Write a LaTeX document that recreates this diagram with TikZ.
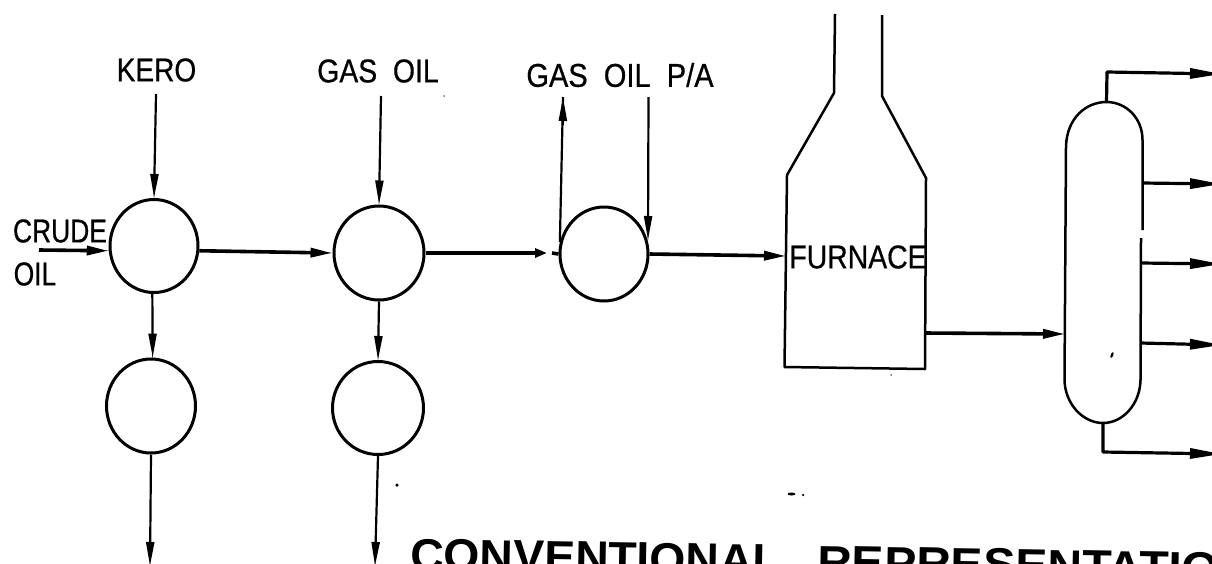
\documentclass[tikz,border=0pt]{standalone}
\usepackage{fontspec}
\setmainfont{Liberation Sans}
\newfontfamily\heavy[FakeBold=0.6]{Liberation Sans}
\usetikzlibrary{arrows.meta,shapes.geometric}
\newcommand{\nx}[2]{\scalebox{#1}[1]{#2}}
\tikzset{
  vessel/.style={ellipse,draw,line width=3pt,inner sep=0pt},
  feed/.style={line width=2.2pt,preaction={draw,arrows=-},-{Triangle[length=24pt,width=8pt]}},
  flow/.style={line width=3.6pt,preaction={draw,arrows=-},-{Triangle[length=22pt,width=9pt]}},
  offtake/.style={line width=3.2pt,line join=round,preaction={draw,arrows=-},-{Triangle[length=32pt,width=10pt]}},
  wall/.style={line width=2.5pt,line join=round},
  lab/.style={inner sep=0pt,font=\fontsize{33}{33}\heavy},
  title/.style={inner sep=0pt,anchor=base west,rotate=-1,font=\fontsize{45}{45}\selectfont\bfseries},
  speck/.style={fill=black,inner sep=0pt,draw=none}
}
\begin{document}
\begin{tikzpicture}[x=1pt,y=-1pt]
\useasboundingbox (0,0) rectangle (1212,563);
\clip (0,0) rectangle (1212,563);
% vessels
\node[vessel,minimum width=88pt,minimum height=93pt] (c1) at (154,246) {};
\node[vessel,minimum width=90pt,minimum height=94pt] (c2) at (379,253) {};
\node[vessel,minimum width=88pt,minimum height=94pt] (c3) at (604,254) {};
\node[vessel,minimum width=89pt,minimum height=94pt] (c4) at (151,406) {};
\node[vessel,minimum width=91pt,minimum height=93pt] (c5) at (378,408) {};
% labels
\node[lab] (kero) at (156.5,70) {\nx{.85}{KERO}};
\node[lab] (gasoil) at (378,71) {\nx{.86}{GAS\ \ OIL}};
\node[lab] (gaspa) at (620,75) {\nx{.88}{GAS\ \ OIL\ \ P/A}};
\node[lab] (crude) at (60,231) {\nx{.8}{CRUDE}};
\node[lab] (oil) at (35,274) {\nx{.8}{OIL}};
\node[lab] (furn) at (858,257) {\nx{.86}{FURNACE}};
% free ends
\coordinate (keroin) at (156,94);
\coordinate (gasin) at (381,96);
\coordinate (paout) at (563,97);
\coordinate (pain) at (648.5,97);
\coordinate (pahit) at (648,240);
\coordinate (crudein) at (39,250);
\coordinate (brk) at (547,253);
\coordinate (brk2) at (552,253);
\coordinate (fin) at (786,256);
\coordinate (c4out) at (150,566);
\coordinate (c5out) at (375,566);
% furnace
\coordinate (f1) at (835,14);
\coordinate (f2) at (834,93);
\coordinate (f3) at (787,175);
\coordinate (f4) at (784.5,367);
\coordinate (f5) at (925,369);
\coordinate (f6) at (926,178);
\coordinate (f7) at (882,96);
\coordinate (f8) at (882,15);
\draw[wall] (f1) -- (f2) -- (f3) -- (f4) -- (f5) -- (f6) -- (f7) -- (f8);
% column
\coordinate (coltop) at (1106.5,102);
\coordinate (colbot) at (1103,423);
\draw[wall] (1142.5,230) -- (1142.5,140) .. controls (1142.5,118) and (1126,102) .. (coltop)
  .. controls (1086,102) and (1067,118) .. (1066,146) -- (1064.5,380)
  .. controls (1065,404) and (1083,423) .. (colbot)
  .. controls (1123,423) and (1140,404) .. (1140.5,380) -- (1141,238);
% process lines
\draw[feed] (keroin) -- (c1.north);
\draw[feed] (gasin) -- (c2.north);
\draw[line width=2.2pt] (c3.165) -- (paout);
\draw[line width=2.2pt,-{Triangle[length=24pt,width=8pt]}] (562.8,125) -- (paout);
\draw[feed] (pain) -- (pahit);
\draw[flow] (crudein) -- (c1.186);
\draw[flow] (c1.-6) -- (c2.west);
\draw[line width=3.6pt,-{Triangle[length=12pt,width=9pt]}] (c2.east) -- (brk);
\draw[line width=3.6pt] (brk2) -- (c3.west);
\draw[flow] (c3.east) -- (fin);
\draw[feed] (c1.-92) -- (c4.88);
\draw[feed] (c2.south) -- (c5.north);
\draw[feed] (c4.south) -- (c4out);
\draw[feed] (c5.south) -- (c5out);
% furnace to column
\coordinate (fout) at (925,333);
\coordinate (colin) at (1065,334);
\draw[flow] (fout) -- (colin);
% draws
\coordinate (d1) at (1222,74);
\coordinate (d2) at (1222,184);
\coordinate (d3) at (1222,264);
\coordinate (d4) at (1222,345);
\coordinate (d5) at (1222,454);
\draw[offtake] (coltop) -- (1107,72) -- (d1);
\draw[offtake] (1142,183) -- (d2);
\draw[offtake] (1141,263) -- (d3);
\draw[offtake] (1140.5,343) -- (d4);
\draw[offtake] (colbot) -- (1103,452) -- (d5);
% title
\node[title] (t1) at (410,570) {\nx{1.03}{CONVENTIONAL}};
\node[title] (t2) at (817,577) {\nx{1.07}{REPRESENTATION}};
% specks
\node[speck,circle,minimum size=3.5pt] (s1) at (397,485) {};
\node[speck,ellipse,minimum width=8pt,minimum height=3pt] (s2) at (791.5,494) {};
\node[speck,circle,minimum size=2.5pt] (s3) at (803,495) {};
\node[speck,ellipse,rotate=70,minimum width=6pt,minimum height=2.5pt] (s4) at (1112,355) {};
\node[speck,circle,minimum size=1.5pt] (s5) at (444,96) {};
\node[speck,circle,minimum size=1.5pt] (s6) at (891,375) {};
\end{tikzpicture}
\end{document}
